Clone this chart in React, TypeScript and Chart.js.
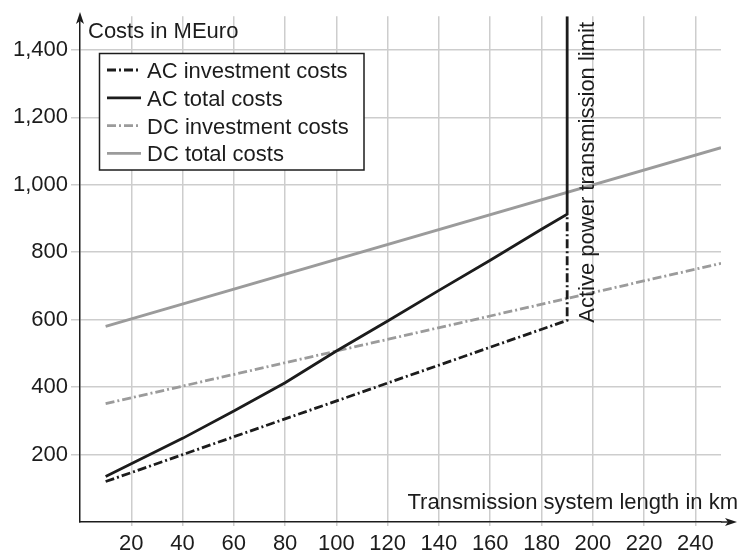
import React, { useEffect, useRef } from "react";
import { Chart, registerables } from "chart.js";

Chart.register(...registerables);

// ---- data ----
const AC_INV_X = [10, 190, 190];
const AC_INV_Y = [120, 598, 913];

const AC_TOTAL_X = [10, 40, 60, 80, 100, 120, 140, 160, 180, 190, 190];
const AC_TOTAL_Y = [135, 248, 329, 413, 507, 596, 687, 776, 868, 913, 1500];

const DC_INV_X = [10, 250];
const DC_INV_Y = [351, 767];

const DC_TOTAL_X = [10, 250];
const DC_TOTAL_Y = [580, 1110];

const X_TICKS = [20, 40, 60, 80, 100, 120, 140, 160, 180, 200, 220, 240];
const Y_TICKS = [200, 400, 600, 800, 1000, 1200, 1400];

const LIMIT_KM = 190;

const LABELS = [
  "AC investment costs",
  "AC total costs",
  "DC investment costs",
  "DC total costs",
];
const Y_TITLE = "Costs in MEuro";
const X_TITLE = "Transmission system length in km";
const LIMIT_TEXT = "Active power transmission limit";

const FONT = "'Liberation Sans', Arial, Helvetica, sans-serif";
const BLACK = "#1c1c1c";
const GRAY = "#9b9b9b";
const GRID = "#cdcdcd";
const DASH_DOT = [9, 3, 2, 3];

const pts = (xs: number[], ys: number[]) => xs.map((x, i) => ({ x, y: ys[i] }));

const decorPlugin = {
  id: "decor",
  afterDraw(chart: any) {
    const { ctx, chartArea, scales } = chart;
    const xS = scales.x;
    const yS = scales.y;
    ctx.save();
    ctx.fillStyle = BLACK;
    ctx.strokeStyle = BLACK;
    ctx.lineWidth = 1.5;

    // axis arrows
    const ax = chartArea.left;
    const ay = chartArea.bottom;
    ctx.beginPath();
    ctx.moveTo(ax, chartArea.top);
    ctx.lineTo(ax, 16);
    ctx.stroke();
    ctx.beginPath();
    ctx.moveTo(ax, 12);
    ctx.lineTo(ax - 4, 24);
    ctx.lineTo(ax, 21);
    ctx.lineTo(ax + 4, 24);
    ctx.closePath();
    ctx.fill();

    ctx.beginPath();
    ctx.moveTo(chartArea.right, ay);
    ctx.lineTo(733, ay);
    ctx.stroke();
    ctx.beginPath();
    ctx.moveTo(737, ay);
    ctx.lineTo(725, ay - 4);
    ctx.lineTo(728, ay);
    ctx.lineTo(725, ay + 4);
    ctx.closePath();
    ctx.fill();

    // titles
    ctx.font = `22px ${FONT}`;
    ctx.textBaseline = "alphabetic";
    ctx.textAlign = "left";
    ctx.fillText(Y_TITLE, ax + 8, 38);
    ctx.textAlign = "right";
    ctx.fillText(X_TITLE, 738, 509);

    // rotated limit label
    ctx.save();
    ctx.translate(xS.getPixelForValue(LIMIT_KM) + 27, yS.getPixelForValue(600) + 3);
    ctx.rotate(-Math.PI / 2);
    ctx.textAlign = "left";
    ctx.fillText(LIMIT_TEXT, 0, 0);
    ctx.restore();

    // legend
    const bx = 99.5, by = 53.5, bw = 264.5, bh = 116.5;
    ctx.fillStyle = "#ffffff";
    ctx.fillRect(bx, by, bw, bh);
    ctx.strokeStyle = BLACK;
    ctx.lineWidth = 1.5;
    ctx.strokeRect(bx, by, bw, bh);
    const datasets = chart.data.datasets;
    datasets.forEach((ds: any, i: number) => {
      const cy = 70 + i * 27.8;
      ctx.save();
      ctx.strokeStyle = ds.borderColor;
      ctx.lineWidth = ds.borderWidth;
      ctx.setLineDash(ds.borderDash || []);
      ctx.beginPath();
      ctx.moveTo(107, cy);
      ctx.lineTo(141, cy);
      ctx.stroke();
      ctx.restore();
      ctx.fillStyle = BLACK;
      ctx.textAlign = "left";
      ctx.textBaseline = "alphabetic";
      ctx.fillText(ds.label, 147, cy + 8);
    });
    ctx.restore();
  },
};

export default function App() {
  const ref = useRef<HTMLCanvasElement | null>(null);

  useEffect(() => {
    if (!ref.current) return;
    Chart.defaults.font.family = FONT;
    Chart.defaults.color = BLACK;
    const chart = new Chart(ref.current, {
      type: "line",
      data: {
        datasets: [
          {
            label: LABELS[0],
            data: pts(AC_INV_X, AC_INV_Y),
            borderColor: BLACK,
            borderWidth: 2.8,
            borderDash: DASH_DOT,
            pointRadius: 0,
            tension: 0,
          },
          {
            label: LABELS[1],
            data: pts(AC_TOTAL_X, AC_TOTAL_Y),
            borderColor: BLACK,
            borderWidth: 2.8,
            pointRadius: 0,
            tension: 0,
          },
          {
            label: LABELS[2],
            data: pts(DC_INV_X, DC_INV_Y),
            borderColor: GRAY,
            borderWidth: 2.8,
            borderDash: DASH_DOT,
            pointRadius: 0,
            tension: 0,
          },
          {
            label: LABELS[3],
            data: pts(DC_TOTAL_X, DC_TOTAL_Y),
            borderColor: GRAY,
            borderWidth: 2.8,
            pointRadius: 0,
            tension: 0,
          },
        ],
      },
      options: {
        animation: false,
        responsive: false,
        maintainAspectRatio: false,
        layout: { padding: { top: 15, right: 19, left: 0, bottom: 0 } },
        plugins: {
          legend: { display: false },
          tooltip: { enabled: false },
        },
        scales: {
          x: {
            type: "linear",
            min: 0,
            max: 250,
            afterBuildTicks: (s: any) => {
              s.ticks = X_TICKS.map((v) => ({ value: v }));
            },
            afterFit: (s: any) => {
              s.height = 28;
            },
            grid: { color: GRID, lineWidth: 1.5, drawTicks: true, tickLength: 4 },
            border: { display: true, color: BLACK, width: 1.5 },
            ticks: {
              font: { size: 22 },
              color: BLACK,
              padding: 5,
              maxRotation: 0,
              autoSkip: false,
            },
          },
          y: {
            type: "linear",
            min: 0,
            max: 1500,
            afterBuildTicks: (s: any) => {
              s.ticks = Y_TICKS.map((v) => ({ value: v }));
            },
            afterFit: (s: any) => {
              s.width = 80;
            },
            grid: { color: GRID, lineWidth: 1.5, tickLength: 9 },
            border: { display: true, color: BLACK, width: 1.5 },
            ticks: {
              font: { size: 22 },
              color: BLACK,
              padding: 3,
              autoSkip: false,
              callback: (v: any) => Number(v).toLocaleString("en-US"),
            },
          },
        },
      },
      plugins: [decorPlugin],
    } as any);
    return () => chart.destroy();
  }, []);

  return (
    <div style={{ position: "fixed", left: 0, top: 0, width: 740, height: 550, background: "#fff" }}>
      <canvas ref={ref} width={740} height={550} style={{ width: 740, height: 550 }} />
    </div>
  );
}
